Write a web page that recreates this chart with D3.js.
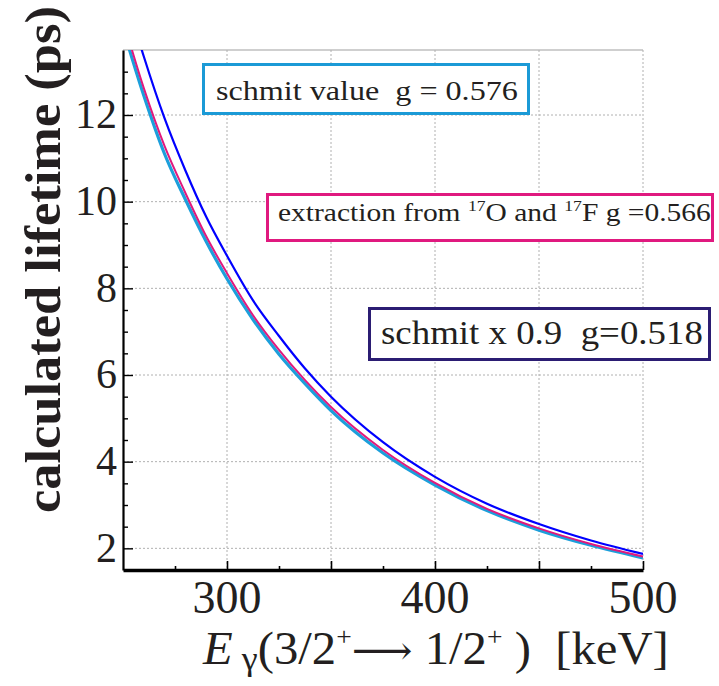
<!DOCTYPE html>
<html>
  <head>
    <script src="https://cdn.jsdelivr.net/npm/d3@7"></script>
    <style>
      body { margin: 0; background: #fff; }
      text { font-family: "Liberation Serif", "Times New Roman", serif; fill: #231f20; }
    </style>
  </head>
  <body>
    <svg width="719" height="686"></svg>

    <script type="text/javascript">
      // values (keV, ps)
      var energies = [250, 260, 270, 280, 290, 300, 312.5, 325, 337.5, 350, 375, 400, 425, 450, 475, 500];
      var schmitValue = [14.0, 12.45, 11.1, 10.05, 9.08, 8.22, 7.28, 6.48, 5.8, 5.18, 4.2, 3.46, 2.87, 2.42, 2.07, 1.78];
      var extraction = [14.2, 12.62, 11.28, 10.2, 9.2, 8.35, 7.38, 6.58, 5.88, 5.26, 4.27, 3.51, 2.91, 2.46, 2.1, 1.81];
      var schmitScaled = [14.95, 13.35, 11.92, 10.72, 9.65, 8.75, 7.72, 6.9, 6.15, 5.5, 4.45, 3.65, 3.03, 2.56, 2.18, 1.87];

      var xMajor = [300, 350, 400, 450, 500];
      var xLabels = [300, 400, 500];
      var xMinor = [275, 325, 375, 425, 475];
      var yLabels = [2, 4, 6, 8, 10, 12];
      var yMinor = [2.5, 3, 3.5, 4.5, 5, 5.5, 6.5, 7, 7.5, 8.5, 9, 9.5, 10.5, 11, 11.5, 12.5, 13];

      var svg = d3.select("svg");
      var plotLeft = 123, plotRight = 643, plotTop = 50, plotBottom = 570;

      var x = d3.scaleLinear().domain([250, 500]).range([plotLeft, plotRight]);
      var y = d3.scaleLinear().domain([1.5, 13.5]).range([plotBottom, plotTop]);

      // squeeze or stretch a text so it spans the measured width
      function fitWidth(t, x0, width) {
        var w = t.node().getBBox().width;
        t.attr("transform", "translate(" + x0 + ",0) scale(" + width / w + ",1)");
      }

      svg.append("clipPath").attr("id", "plot")
        .append("rect").attr("x", plotLeft).attr("y", plotTop)
        .attr("width", plotRight - plotLeft).attr("height", plotBottom - plotTop);

      // frame and grid
      svg.append("line").attr("x1", plotLeft).attr("x2", plotRight)
        .attr("y1", plotTop).attr("y2", plotTop)
        .attr("stroke", "#cfcfcf").attr("stroke-width", 2);

      svg.append("g").selectAll("line").data(xMajor).enter().append("line")
        .attr("x1", (d) => x(d)).attr("x2", (d) => x(d))
        .attr("y1", plotTop).attr("y2", plotBottom)
        .attr("stroke", "#b0b0b0").attr("stroke-width", 1).attr("stroke-dasharray", "2,2");

      svg.append("g").selectAll("line").data(yLabels).enter().append("line")
        .attr("x1", plotLeft).attr("x2", plotRight)
        .attr("y1", (d) => y(d)).attr("y2", (d) => y(d))
        .attr("stroke", "#b0b0b0").attr("stroke-width", 1).attr("stroke-dasharray", "2,2");

      // curves
      var line = d3.line()
        .x((d, i) => x(energies[i]))
        .y((d) => y(d))
        .curve(d3.curveMonotoneX);

      var curves = svg.append("g").attr("clip-path", "url(#plot)");
      curves.append("path").attr("d", line(schmitValue))
        .attr("fill", "none").attr("stroke", "#1c9fdb").attr("stroke-width", 3.2);
      curves.append("path").attr("d", line(extraction))
        .attr("fill", "none").attr("stroke", "#e0197d").attr("stroke-width", 2);
      curves.append("path").attr("d", line(schmitScaled))
        .attr("fill", "none").attr("stroke", "#0000ff").attr("stroke-width", 2.2);

      // axes
      var xAxis = svg.append("g").attr("transform", "translate(0," + plotBottom + ")");
      xAxis.call(d3.axisBottom(x).tickValues(xMajor).tickSize(-9).tickSizeOuter(0).tickFormat(""));
      xAxis.append("g").call(d3.axisBottom(x).tickValues(xMinor).tickSize(-4).tickFormat(""))
        .select(".domain").remove();
      xAxis.selectAll(".tick line").attr("stroke", "#000").attr("stroke-width", 1.6);
      xAxis.select(".domain").attr("stroke", "#000").attr("stroke-width", 3.4);

      svg.append("g").selectAll("text").data(xLabels).enter().append("text")
        .attr("x", (d) => x(d)).attr("y", 613)
        .attr("text-anchor", "middle").attr("font-size", 46)
        .text((d) => d);

      var yAxis = svg.append("g").attr("transform", "translate(" + plotLeft + ",0)");
      yAxis.call(d3.axisLeft(y).tickValues(yLabels).tickSize(-10).tickSizeOuter(0).tickFormat(""));
      yAxis.append("g").call(d3.axisLeft(y).tickValues(yMinor).tickSize(-5).tickFormat(""))
        .select(".domain").remove();
      yAxis.selectAll(".tick line").attr("stroke", "#000").attr("stroke-width", 1.4);
      yAxis.select(".domain").attr("stroke", "#000").attr("stroke-width", 2.2);

      svg.append("g").selectAll("text").data(yLabels).enter().append("text")
        .attr("x", 117).attr("y", (d) => y(d))
        .attr("dy", "0.32em")
        .attr("text-anchor", "end").attr("font-size", 42)
        .text((d) => d);

      // axis titles
      var yTitle = svg.append("g").attr("transform", "translate(60,513) rotate(-90)")
        .append("text").attr("x", 0).attr("y", 0)
        .attr("font-size", 50).attr("font-weight", "bold")
        .text("calculated lifetime (ps)");
      fitWidth(yTitle, 0, 507);

      var xTitle = svg.append("text").attr("y", 664).attr("font-size", 46)
        .style("white-space", "pre");
      xTitle.append("tspan").attr("font-style", "italic").text("E");
      xTitle.append("tspan").attr("font-size", 34).attr("dy", 6).text(" γ");
      xTitle.append("tspan").attr("dy", -6).text("(3/2");
      xTitle.append("tspan").attr("font-size", 26).attr("dy", -19).text("+");
      xTitle.append("tspan").attr("dy", 19).attr("font-family", "DejaVu Serif").attr("font-size", 40).text("⟶");
      xTitle.append("tspan").text(" 1/2");
      xTitle.append("tspan").attr("font-size", 26).attr("dy", -19).text("+");
      xTitle.append("tspan").attr("dy", 19).text(" )  [keV]");
      fitWidth(xTitle, 203, 467);

      // legend boxes
      function legendBox(bx, by, bw, bh, color) {
        svg.append("rect").attr("x", bx).attr("y", by).attr("width", bw).attr("height", bh)
          .attr("fill", "#fff").attr("stroke", color).attr("stroke-width", 3);
      }

      legendBox(203.5, 64.5, 325, 49, "#1b9ad6");
      var t1 = svg.append("text").attr("y", 100).attr("font-size", 28)
        .style("white-space", "pre").text("schmit value  g = 0.576");
      fitWidth(t1, 216, 302);

      legendBox(267.5, 194.5, 445, 46, "#e0197f");
      var t2 = svg.append("text").attr("y", 221).attr("font-size", 25)
        .style("white-space", "pre");
      t2.append("tspan").text("extraction from ");
      t2.append("tspan").attr("font-size", 15).attr("dy", -10).text("17");
      t2.append("tspan").attr("dy", 10).text("O and ");
      t2.append("tspan").attr("font-size", 15).attr("dy", -10).text("17");
      t2.append("tspan").attr("dy", 10).text("F g =0.566");
      fitWidth(t2, 278, 433);

      legendBox(369.5, 308.5, 340, 51, "#2b1d73");
      var t3 = svg.append("text").attr("y", 344).attr("font-size", 34)
        .style("white-space", "pre").text("schmit x 0.9  g=0.518");
      fitWidth(t3, 381, 322);
    </script>
  </body>
</html>
